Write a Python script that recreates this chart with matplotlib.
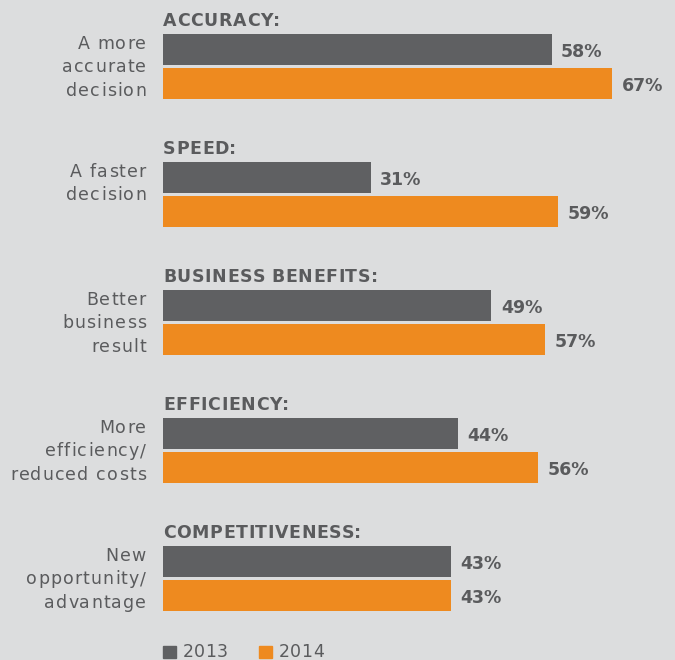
import matplotlib
matplotlib.use("Agg")
import matplotlib.pyplot as plt
from matplotlib.patches import Rectangle
from matplotlib.font_manager import FontProperties

headings = ["ACCURACY:", "SPEED:", "BUSINESS BENEFITS:", "EFFICIENCY:", "COMPETITIVENESS:"]
categories = [["A more", "accurate", "decision"],
              ["A faster", "decision"],
              ["Better", "business", "result"],
              ["More", "efficiency/", "reduced costs"],
              ["New", "opportunity/", "advantage"]]
values_2013 = [58, 31, 49, 44, 43]
values_2014 = [67, 59, 57, 56, 43]
series_labels = ["2013", "2014"]

BG = "#dcddde"
GREY = "#5f6062"
ORANGE = "#ee8a1f"
TEXT = "#5a5b5d"

W, H = 675, 660
fig = plt.figure(figsize=(W / 100, H / 100), dpi=100, facecolor=BG)
renderer = fig.canvas.get_renderer()

BAR_X0 = 163          # pixel column where the bars start
PX_PER_PCT = 6.7
left = BAR_X0 / W
ax = fig.add_axes([left, 0, 1 - left, 1])
ax.set_facecolor(BG)
ax.set_xlim(0, (W - BAR_X0) / PX_PER_PCT)
ax.set_ylim(H, 0)     # y in pixel rows, top to bottom
ax.axis("off")

FS = 12.5
prop_reg = FontProperties(family="DejaVu Sans", size=FS)
prop_head = FontProperties(family="DejaVu Sans", size=FS, weight="bold")
prop_val = FontProperties(family="DejaVu Sans", size=FS, weight="bold")


def _width(s, prop):
    w, _, _ = renderer.get_text_width_height_descent(s, prop, ismath=False)
    return w


def tracked_text(x, y, s, prop, tracking, ha="left", color=TEXT):
    """Draw s with extra letter spacing; x, y in pixels from the top-left, y at baseline."""
    ref = _width("|", prop)
    adv = [_width(s[:i] + "|", prop) - ref if i else 0.0 for i in range(len(s) + 1)]
    total = adv[-1] + tracking * (len(s) - 1)
    x0 = x - total if ha == "right" else x
    for i, ch in enumerate(s):
        if ch == " ":
            continue
        fig.text((x0 + adv[i] + tracking * i) / W, 1 - y / H, ch, ha="left",
                 va="baseline", fontproperties=prop, color=color)


group_step = 128
first_top = 34
bar_h = 31
gap = 3
line_step = 23.5

for i, (head, cat, v13, v14) in enumerate(zip(headings, categories, values_2013, values_2014)):
    top = first_top + group_step * i
    y13 = top + bar_h / 2
    y14 = top + bar_h + gap + bar_h / 2
    ax.barh(y13, v13, height=bar_h, color=GREY, left=0)
    ax.barh(y14, v14, height=bar_h, color=ORANGE, left=0)
    for v, yc in ((v13, y13), (v14, y14)):
        ax.text(v + 9.5 / PX_PER_PCT, yc + 7.8, f"{v}%", va="baseline", ha="left",
                fontproperties=prop_val, color=TEXT)
    tracked_text(BAR_X0, top - 8, head, prop_head, 0.6)
    for j, line in enumerate(cat):
        tracked_text(146, top + 14.8 + j * line_step, line, prop_reg, 1.1, ha="right")

# legend
for x0, label, col in [(163, series_labels[0], GREY), (259, series_labels[1], ORANGE)]:
    fig.patches.append(Rectangle((x0 / W, 1 - 657.5 / H), 13 / W, 11.5 / H,
                                 transform=fig.transFigure, color=col))
    tracked_text(x0 + 20, 657.3, label, prop_reg, 0.3)

fig.savefig("out.png", dpi=100, facecolor=BG)
